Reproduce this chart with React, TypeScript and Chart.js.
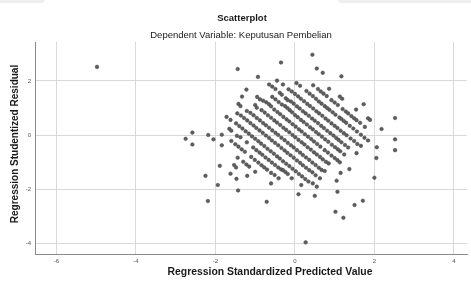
import { useEffect, useRef } from "react";
import { Chart, registerables } from "chart.js";

Chart.register(...registerables);

const chartTitle = "Scatterplot";
const chartSubtitle = "Dependent Variable: Keputusan Pembelian";
const xAxisTitle = "Regression Standardized Predicted Value";
const yAxisTitle = "Regression Studentized Residual";

const xTickValues = [-6, -4, -2, 0, 2, 4];
const yTickValues = [-4, -2, 0, 2];

// [standardized predicted value, studentized residual]
const sparseTop: number[][] = [
  [-4.98, 2.52], [-1.44, 2.44], [-0.93, 2.15], [-0.35, 2.68], [0.44, 2.97], [0.55, 2.46],
  [0.7, 2.3], [1.17, 2.17], [-1.22, 1.68], [0.86, 1.71], [1.13, 1.42], [1.19, 1.34],
  [1.73, 1.14], [1.54, 0.94], [1.84, 0.62], [1.89, 0.56], [2.18, 0.22], [2.52, 0.63], [2.52, -0.16],
];

const sparseBottomRight: number[][] = [
  [2.0, -1.58], [1.71, -2.43], [1.5, -2.59], [1.07, -2.1], [0.27, -3.97],
];

const sparseLowerLeft: number[][] = [
  [-2.18, 0.0], [-2.05, -0.16], [-1.84, -0.38], [-1.44, -0.84], [-1.3, -0.99], [-1.22, -1.09],
  [-1.15, -1.17], [-1.0, -1.36], [-0.6, -1.79], [-2.58, 0.09], [-1.53, -1.11], [-1.48, -1.2],
  [-1.2, -1.51], [-2.75, -0.14], [-2.58, -0.35], [-1.89, -1.14], [-1.62, -1.43], [-1.47, -1.62],
  [-0.71, -2.47], [-1.43, -2.05], [-2.25, -1.51], [-1.94, -1.85], [-2.19, -2.44],
];

const bandUpper: number[][] = [
  [0.46, 1.84], [0.58, 1.7], [0.65, 1.61], [0.72, 1.53], [0.8, 1.44], [0.92, 1.29], [1.0, 1.2],
  [1.08, 1.11], [1.2, 0.96], [1.28, 0.87], [1.34, 0.8], [1.42, 0.7], [1.49, 0.62], [1.55, 0.55],
  [1.64, 0.45], [1.76, 0.3], [2.52, -0.56],
  [0.04, 1.92], [0.13, 1.82], [0.29, 1.63], [0.37, 1.53], [0.45, 1.44], [0.53, 1.34], [0.6, 1.24],
  [0.67, 1.16], [0.75, 1.07], [0.81, 1.0], [0.87, 0.93], [0.95, 0.84], [1.02, 0.75], [1.12, 0.65],
  [1.17, 0.59], [1.23, 0.52], [1.29, 0.45], [1.38, 0.34], [1.47, 0.24], [1.56, 0.13], [1.66, 0.01],
  [1.75, -0.1], [1.84, -0.2], [2.06, -0.45],
  [-0.45, 2.01], [-0.3, 1.87], [-0.16, 1.69], [-0.08, 1.61], [0.0, 1.52], [0.08, 1.43], [0.15, 1.34],
  [0.23, 1.25], [0.31, 1.15], [0.38, 1.07], [0.46, 0.98], [0.54, 0.88], [0.61, 0.8], [0.69, 0.71],
  [0.77, 0.61], [0.84, 0.53], [0.92, 0.43], [1.0, 0.34], [1.07, 0.26], [1.15, 0.16], [1.23, 0.07],
  [1.3, -0.01], [1.4, -0.13], [1.49, -0.22], [1.57, -0.33], [1.66, -0.4], [2.05, -0.85],
];

const bandMiddle: number[][] = [
  [-0.65, 1.87], [-0.57, 1.79], [-0.49, 1.7], [-0.38, 1.56], [-0.33, 1.49], [-0.23, 1.36],
  [-0.18, 1.29], [-0.1, 1.24], [-0.03, 1.16], [0.05, 1.06], [0.12, 0.98], [0.2, 0.88], [0.27, 0.8],
  [0.35, 0.71], [0.43, 0.61], [0.5, 0.53], [0.58, 0.44], [0.66, 0.34], [0.73, 0.26], [0.81, 0.16],
  [0.89, 0.07], [0.97, -0.02], [1.04, -0.11], [1.1, -0.18], [1.17, -0.27], [1.26, -0.37],
  [1.34, -0.46], [1.55, -0.67],
  [-0.57, 1.41], [-0.49, 1.32], [-0.41, 1.22], [-0.33, 1.13], [-0.25, 1.07], [-0.19, 1.0],
  [-0.13, 0.92], [-0.07, 0.84], [0.0, 0.74], [0.07, 0.66], [0.15, 0.56], [0.22, 0.48], [0.3, 0.39],
  [0.38, 0.29], [0.45, 0.21], [0.53, 0.11], [0.6, 0.03], [0.68, -0.06], [0.76, -0.16], [0.84, -0.25],
  [0.93, -0.36], [1.01, -0.45], [1.08, -0.53], [1.14, -0.6], [1.24, -0.72],
  [-0.95, 1.41], [-0.88, 1.32], [-0.8, 1.27], [-0.72, 1.21], [-0.65, 1.14], [-0.6, 1.06],
  [-0.52, 0.94], [-0.44, 0.85], [-0.37, 0.77], [-0.29, 0.67], [-0.21, 0.58], [-0.14, 0.5],
  [-0.06, 0.4], [0.02, 0.31], [0.1, 0.21], [0.17, 0.13], [0.25, 0.03], [0.33, -0.06], [0.41, -0.15],
  [0.48, -0.24], [0.56, -0.33], [0.64, -0.43], [0.75, -0.56], [0.83, -0.65], [0.92, -0.76],
  [1.0, -0.85], [1.07, -0.93], [1.13, -1.01], [1.37, -1.26],
  [-1.33, 1.42], [-1.0, 1.11], [-0.96, 1.01], [-0.84, 0.92], [-0.76, 0.83], [-0.68, 0.73],
  [-0.6, 0.64], [-0.52, 0.54], [-0.45, 0.46], [-0.37, 0.37], [-0.29, 0.27], [-0.22, 0.19],
  [-0.14, 0.1], [-0.06, 0.0], [0.01, -0.08], [0.09, -0.18], [0.17, -0.27], [0.24, -0.35],
  [0.32, -0.45], [0.4, -0.54], [0.48, -0.64], [0.55, -0.72], [0.63, -0.81], [0.7, -0.9],
  [0.78, -0.99], [0.85, -1.05], [1.15, -1.4],
];

const bandLower: number[][] = [
  [-1.42, 1.15], [-1.37, 1.07], [-1.21, 0.89], [-1.12, 0.82], [-1.04, 0.73], [-0.96, 0.63],
  [-0.88, 0.54], [-0.8, 0.44], [-0.73, 0.36], [-0.65, 0.27], [-0.57, 0.17], [-0.49, 0.08],
  [-0.42, 0.0], [-0.34, -0.1], [-0.26, -0.19], [-0.18, -0.29], [-0.1, -0.38], [-0.03, -0.46],
  [0.05, -0.56], [0.13, -0.65], [0.2, -0.74], [0.28, -0.83], [0.36, -0.92], [0.44, -1.02],
  [0.52, -1.11], [0.6, -1.21], [0.67, -1.29], [0.75, -1.33], [1.05, -1.69],
  [-1.45, 0.8], [-1.36, 0.72], [-1.28, 0.63], [-1.2, 0.54], [-1.12, 0.44], [-1.04, 0.35],
  [-0.97, 0.26], [-0.89, 0.17], [-0.81, 0.08], [-0.73, -0.02], [-0.65, -0.11], [-0.58, -0.2],
  [-0.5, -0.29], [-0.42, -0.38], [-0.34, -0.48], [-0.26, -0.57], [-0.19, -0.66], [-0.11, -0.75],
  [-0.03, -0.84], [0.05, -0.94], [0.13, -1.03], [0.2, -1.12], [0.28, -1.21], [0.36, -1.3],
  [0.44, -1.38], [0.52, -1.49], [0.63, -1.6],
  [-1.72, 0.67], [-1.62, 0.56], [-1.48, 0.43], [-1.4, 0.33], [-1.32, 0.24], [-1.24, 0.14],
  [-1.16, 0.05], [-1.08, -0.05], [-1.0, -0.14], [-0.92, -0.23], [-0.85, -0.32], [-0.77, -0.41],
  [-0.69, -0.51], [-0.61, -0.6], [-0.53, -0.69], [-0.45, -0.79], [-0.38, -0.87], [-0.3, -0.97],
  [-0.22, -1.06], [-0.14, -1.15], [-0.06, -1.25], [0.02, -1.34], [0.1, -1.44], [0.18, -1.53],
  [0.26, -1.63], [0.34, -1.72], [0.45, -1.79], [0.55, -1.91],
  [-1.65, 0.23], [-1.6, 0.16], [-1.46, -0.03], [-1.37, -0.08], [-1.21, -0.27], [-1.05, -0.46],
  [-0.97, -0.56], [-0.89, -0.65], [-0.82, -0.73], [-0.74, -0.83], [-0.66, -0.92], [-0.58, -1.02],
  [-0.5, -1.11], [-0.42, -1.2], [-0.35, -1.27], [-0.3, -1.3], [-0.24, -1.37], [-0.18, -1.44],
  [-0.08, -1.6], [0.16, -1.85], [0.5, -2.25], [1.02, -2.84], [1.22, -3.06],
  [-1.84, 0.01], [-1.6, -0.22], [-1.5, -0.34], [-1.42, -0.43], [-1.34, -0.53], [-1.26, -0.62],
  [-1.1, -0.81], [-1.01, -0.92], [-0.92, -1.02], [-0.84, -1.12], [-0.77, -1.2], [-0.7, -1.28],
  [-0.6, -1.4], [-0.51, -1.48], [-0.41, -1.6], [0.09, -2.19],
];

const FONT = '"Liberation Sans", Arial, sans-serif';

const titlesPlugin = {
  id: "spssTitles",
  beforeDraw(chart: any) {
    const ctx = chart.ctx as CanvasRenderingContext2D;
    ctx.save();
    ctx.fillStyle = "#efefef";
    ctx.beginPath();
    ctx.roundRect(-10, -10, 55, 13, 4);
    ctx.roundRect(338, -10, 150, 13, 4);
    ctx.fill();
    ctx.restore();
  },
  afterDraw(chart: any) {
    const ctx = chart.ctx as CanvasRenderingContext2D;
    ctx.save();
    ctx.fillStyle = "#1a1a1a";
    ctx.textAlign = "center";
    ctx.textBaseline = "middle";
    ctx.font = `bold 9.5px ${FONT}`;
    ctx.fillText(chartTitle, 242, 18);
    ctx.font = `9.5px ${FONT}`;
    ctx.fillText(chartSubtitle, 241, 35);
    ctx.font = `bold 10.4px ${FONT}`;
    ctx.fillText(xAxisTitle, 270, 272);
    ctx.font = `bold 10px ${FONT}`;
    ctx.translate(15, 144);
    ctx.rotate(-Math.PI / 2);
    ctx.fillText(yAxisTitle, 0, 0);
    ctx.restore();
  },
};

export default function App() {
  const ref = useRef<HTMLCanvasElement>(null);
  useEffect(() => {
    const points = [
      ...sparseTop,
      ...sparseBottomRight,
      ...sparseLowerLeft,
      ...bandUpper,
      ...bandMiddle,
      ...bandLower,
    ].map(([x, y]) => ({ x, y }));
    const tickFont = { family: FONT, size: 6 };
    const chart = new Chart(ref.current as HTMLCanvasElement, {
      type: "scatter",
      data: {
        datasets: [
          {
            data: points,
            pointRadius: 1.8,
            pointHoverRadius: 1.8,
            backgroundColor: "#5e5e5e",
            borderColor: "#404040",
            borderWidth: 0.5,
          },
        ],
      },
      options: {
        animation: false,
        responsive: false,
        devicePixelRatio: 1,
        events: [],
        layout: { padding: { top: 42, right: 4, left: 0, bottom: 0 } },
        plugins: { legend: { display: false }, tooltip: { enabled: false }, title: { display: false } },
        scales: {
          x: {
            type: "linear",
            min: -6.54,
            max: 4.33,
            afterBuildTicks: (s: any) => {
              s.ticks = xTickValues.map((v) => ({ value: v }));
            },
            afterFit: (s: any) => {
              s.height = 27;
            },
            grid: { color: "#d9d9d9", drawTicks: false, lineWidth: 1 },
            border: { color: "#8a8a8a", width: 1 },
            ticks: { font: tickFont, color: "#555", padding: 4, maxRotation: 0, autoSkip: false },
          },
          y: {
            type: "linear",
            min: -4.4,
            max: 3.44,
            afterBuildTicks: (s: any) => {
              s.ticks = yTickValues.map((v) => ({ value: v }));
            },
            afterFit: (s: any) => {
              s.width = 35;
            },
            grid: { color: "#d9d9d9", drawTicks: false, lineWidth: 1 },
            border: { color: "#8a8a8a", width: 1 },
            ticks: { font: tickFont, color: "#555", padding: 4, autoSkip: false },
          },
        },
      },
      plugins: [titlesPlugin],
    });
    return () => chart.destroy();
  }, []);
  return (
    <div style={{ position: "fixed", left: 0, top: 0, width: 471, height: 281, background: "#fff" }}>
      <canvas ref={ref} width={471} height={281} style={{ width: 471, height: 281, display: "block" }} />
    </div>
  );
}
